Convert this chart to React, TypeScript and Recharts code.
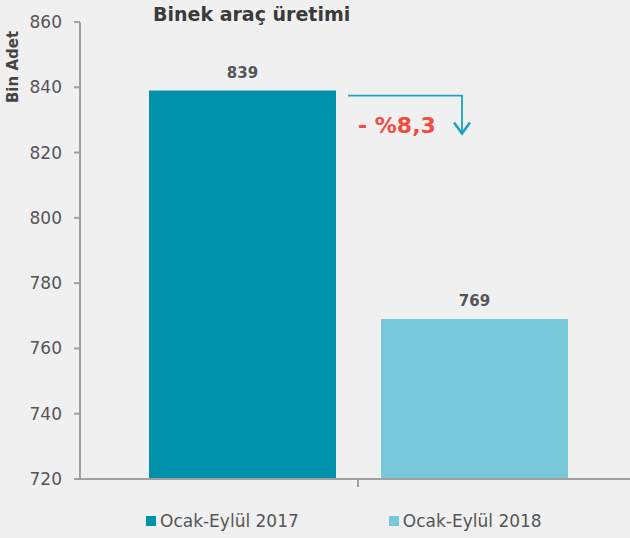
import { BarChart, Bar, XAxis, YAxis, Legend, LabelList, Label } from 'recharts'

const categories = ['Binek araç üretimi']
const seriesNames = ['Ocak-Eylül 2017', 'Ocak-Eylül 2018']
const values2017 = [839]
const values2018 = [769]
const yTicks = [720, 740, 760, 780, 800, 820, 840, 860]
const colors = ['#0091ab', '#77c9da']

const data = categories.map((name, i) => ({
  name,
  y2017: values2017[i],
  y2018: values2018[i],
}))

const FONT = '"DejaVu Sans", sans-serif'

const change = ((values2018[0] - values2017[0]) / values2017[0]) * 100
const changeText = `- %${Math.abs(change).toFixed(1).replace('.', ',')}`

function FirstBarLabel(props: any) {
  const { x, y, width, value } = props
  const x0 = x + width + 12
  const y0 = y + 5
  const x1 = x + width + 126
  const y1 = y + 43
  return (
    <g>
      <text x={x + width / 2} y={y - 13} textAnchor="middle" fontSize={15} fontWeight="bold" fill="#555" fontFamily={FONT}>
        {value}
      </text>
      <polyline points={`${x0},${y0} ${x1},${y0} ${x1},${y1}`} fill="none" stroke="#1aa3bf" strokeWidth={1.8} />
      <polyline points={`${x1 - 8},${y1 - 11} ${x1},${y1} ${x1 + 8},${y1 - 11}`} fill="none" stroke="#1aa3bf" strokeWidth={2.5} />
      <text x={x + width + 22} y={y + 42} fontSize={22} fontWeight="bold" fill="#f04b3f" fontFamily={FONT}>
        {changeText}
      </text>
    </g>
  )
}

function LegendContent() {
  return (
    <div style={{ display: 'flex', height: 22, alignItems: 'center', paddingLeft: 146, gap: 90, fontFamily: FONT, fontSize: 17, color: '#555', whiteSpace: 'nowrap' }}>
      {seriesNames.map((n, i) => (
        <div key={n} style={{ display: 'flex', alignItems: 'center', flexShrink: 0 }}>
          <span style={{ width: 10, height: 10, background: colors[i], marginRight: 4, display: 'inline-block' }} />
          <span>{n}</span>
        </div>
      ))}
    </div>
  )
}

export default function App() {
  return (
    <div style={{ position: 'absolute', left: 0, top: 0, width: 630, height: 538, background: '#f0f0f0' }}>
      <div style={{ position: 'absolute', left: 153, top: 3, fontFamily: FONT, fontWeight: 'bold', fontSize: 19, color: '#3a3a3a', whiteSpace: 'nowrap' }}>
        Binek araç üretimi
      </div>
      <BarChart width={630} height={538} data={data} margin={{ top: 22, right: 0, left: 0, bottom: 6 }} barGap={45}>
        <XAxis
          dataKey="name"
          tickFormatter={() => ''}
          axisLine={{ stroke: '#a0a0a0', strokeWidth: 2 }}
          tickLine={{ stroke: '#a0a0a0', strokeWidth: 2 }}
          tickSize={8}
          height={31}
          padding={{ left: 6, right: 0 }}
        />
        <YAxis
          domain={[720, 860]}
          ticks={yTicks}
          width={80}
          tickSize={6}
          tickMargin={12}
          axisLine={{ stroke: '#a0a0a0', strokeWidth: 2 }}
          tickLine={{ stroke: '#a0a0a0', strokeWidth: 2 }}
          tick={{ fontSize: 17, fill: '#555', fontFamily: FONT }}
          allowDataOverflow
        >
          <Label
            content={(p: any) => (
              <text
                x={p.viewBox.x + 13}
                y={p.viewBox.y + 45}
                transform={`rotate(-90, ${p.viewBox.x + 13}, ${p.viewBox.y + 45})`}
                textAnchor="middle"
                dominantBaseline="central"
                fontSize={15}
                fontWeight="bold"
                fill="#444"
                fontFamily={FONT}
              >
                Bin Adet
              </text>
            )}
          />
        </YAxis>
        <Legend verticalAlign="bottom" content={<LegendContent />} />
        <Bar dataKey="y2017" name={seriesNames[0]} fill={colors[0]} barSize={187} isAnimationActive={false}>
          <LabelList dataKey="y2017" content={<FirstBarLabel />} />
        </Bar>
        <Bar dataKey="y2018" name={seriesNames[1]} fill={colors[1]} barSize={187} isAnimationActive={false}>
          <LabelList dataKey="y2018" position="top" offset={13} style={{ fontSize: 15, fontWeight: 'bold', fill: '#555', fontFamily: FONT }} />
        </Bar>
      </BarChart>
    </div>
  )
}
